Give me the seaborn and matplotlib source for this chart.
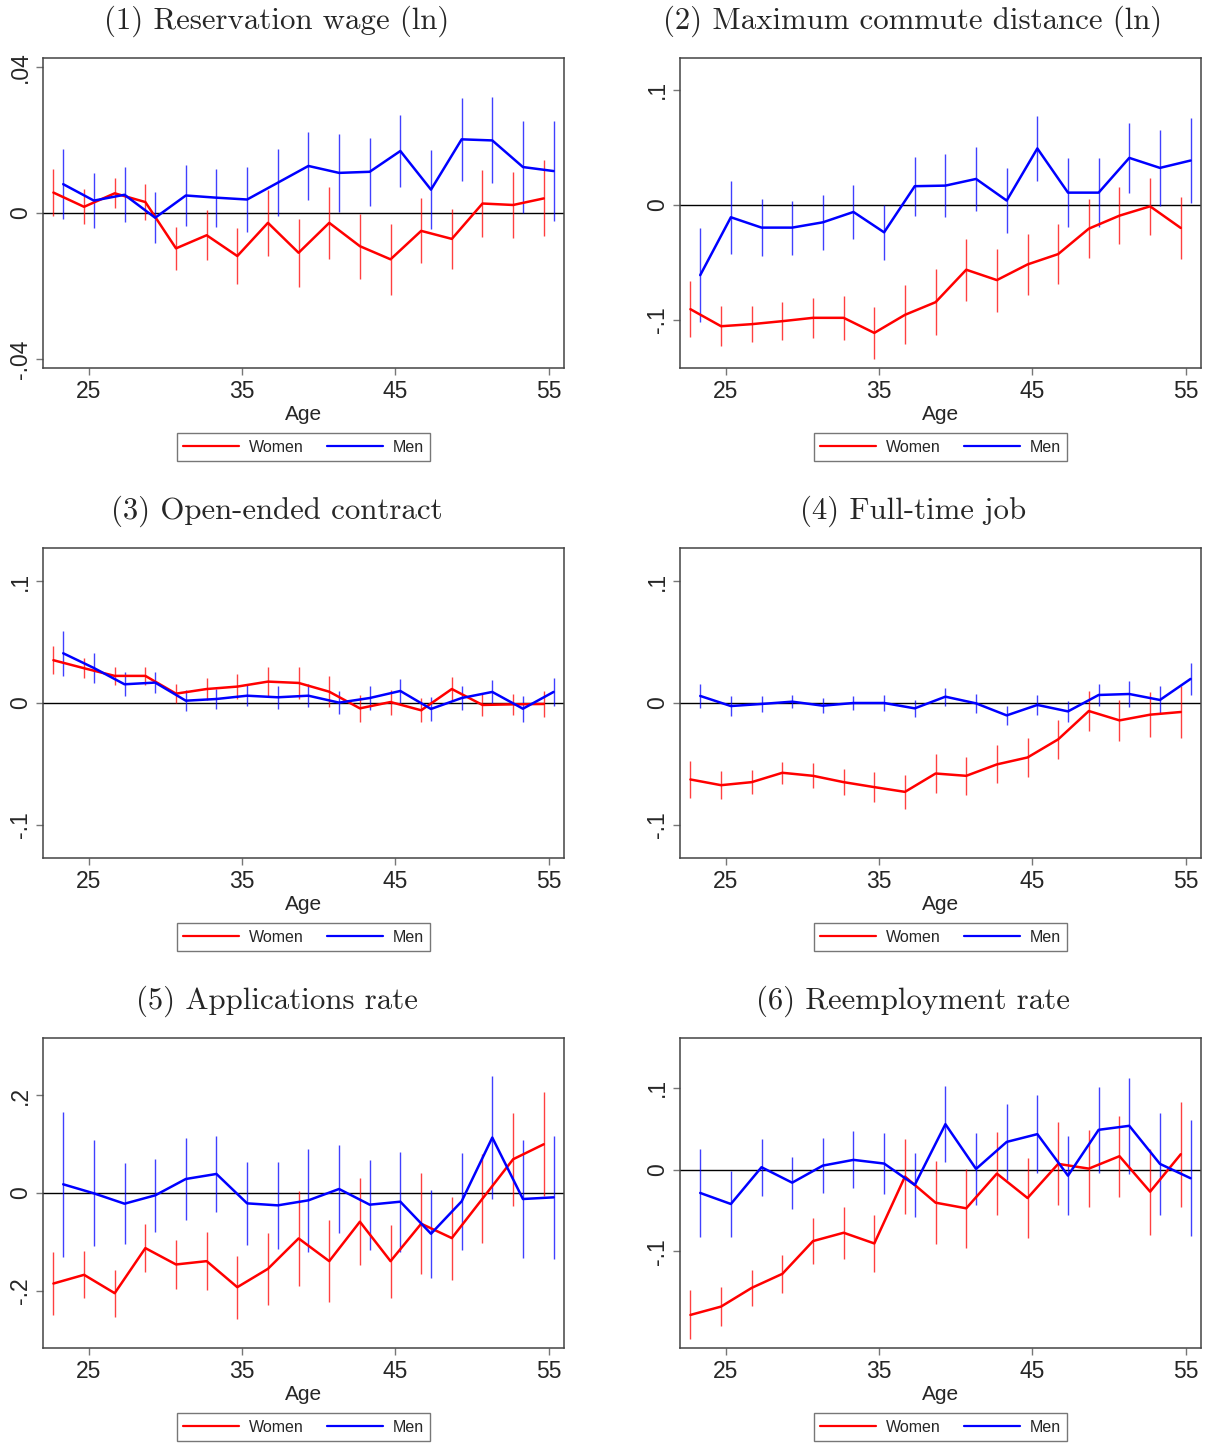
import numpy as np
import pandas as pd
import matplotlib
matplotlib.use("Agg")
import matplotlib.pyplot as plt
from matplotlib.lines import Line2D
import seaborn as sns

# ---------------- data ----------------
ages = list(range(23, 56, 2))

titles = ["(1) Reservation wage (ln)", "(2) Maximum commute distance (ln)",
          "(3) Open-ended contract", "(4) Full-time job",
          "(5) Applications rate", "(6) Reemployment rate"]

# Panel 1
women_p1 = [0.0056, 0.0017, 0.0054, 0.0030, -0.0097, -0.0061, -0.0118, -0.0027, -0.0109,
            -0.0027, -0.0091, -0.0127, -0.0049, -0.0071, 0.0026, 0.0022, 0.0040]
women_ci_p1 = [0.0064, 0.0048, 0.0041, 0.0049, 0.0059, 0.0069, 0.0078, 0.0091, 0.0093,
               0.0098, 0.0089, 0.0098, 0.0089, 0.0083, 0.0092, 0.0090, 0.0104]
men_p1 = [0.0079, 0.0034, 0.0050, -0.0013, 0.0048, 0.0042, 0.0037, 0.0083, 0.0129,
          0.0110, 0.0113, 0.0170, 0.0064, 0.0202, 0.0199, 0.0126, 0.0115]
men_ci_p1 = [0.0096, 0.0075, 0.0075, 0.0070, 0.0083, 0.0080, 0.0089, 0.0092, 0.0093,
             0.0107, 0.0094, 0.0099, 0.0109, 0.0114, 0.0118, 0.0125, 0.0138]

# Panel 2
women_p2 = [-0.0906, -0.1054, -0.1036, -0.1010, -0.0981, -0.0981, -0.1112, -0.0955, -0.0845,
            -0.0563, -0.0653, -0.0517, -0.0427, -0.0206, -0.0093, -0.0012, -0.0200]
women_ci_p2 = [0.0245, 0.0174, 0.0155, 0.0164, 0.0174, 0.0192, 0.0226, 0.0257, 0.0287,
               0.0270, 0.0274, 0.0264, 0.0263, 0.0254, 0.0248, 0.0248, 0.0270]
men_p2 = [-0.0610, -0.0107, -0.0197, -0.0197, -0.0151, -0.0061, -0.0238, 0.0163, 0.0168,
          0.0226, 0.0038, 0.0491, 0.0107, 0.0107, 0.0409, 0.0322, 0.0386]
men_ci_p2 = [0.0408, 0.0319, 0.0250, 0.0235, 0.0238, 0.0232, 0.0241, 0.0255, 0.0277,
             0.0280, 0.0282, 0.0283, 0.0300, 0.0300, 0.0305, 0.0332, 0.0366]

# Panel 3
women_p3 = [0.0352, 0.0286, 0.0223, 0.0223, 0.0077, 0.0115, 0.0135, 0.0176, 0.0165,
            0.0093, -0.0044, 0.0008, -0.0060, 0.0115, -0.0016, -0.0011, -0.0008]
women_ci_p3 = [0.0113, 0.0082, 0.0074, 0.0077, 0.0077, 0.0088, 0.0102, 0.0120, 0.0130,
               0.0126, 0.0109, 0.0103, 0.0098, 0.0102, 0.0091, 0.0089, 0.0109]
men_p3 = [0.0409, 0.0288, 0.0154, 0.0168, 0.0019, 0.0033, 0.0060, 0.0047, 0.0060,
          0.0003, 0.0041, 0.0099, -0.0049, 0.0041, 0.0091, -0.0047, 0.0091]
men_ci_p3 = [0.0185, 0.0121, 0.0098, 0.0085, 0.0088, 0.0085, 0.0085, 0.0093, 0.0095,
             0.0095, 0.0095, 0.0099, 0.0096, 0.0100, 0.0100, 0.0107, 0.0118]

# Panel 4
women_p4 = [-0.0629, -0.0676, -0.0651, -0.0574, -0.0599, -0.0651, -0.0692, -0.0731, -0.0580,
            -0.0599, -0.0505, -0.0448, -0.0299, -0.0066, -0.0143, -0.0096, -0.0074]
women_ci_p4 = [0.0151, 0.0113, 0.0096, 0.0092, 0.0102, 0.0106, 0.0121, 0.0137, 0.0159,
               0.0158, 0.0157, 0.0163, 0.0163, 0.0166, 0.0169, 0.0185, 0.0214]
men_p4 = [0.0058, -0.0025, -0.0008, 0.0011, -0.0022, 0.0000, 0.0000, -0.0044, 0.0052,
          -0.0003, -0.0102, -0.0016, -0.0069, 0.0066, 0.0074, 0.0025, 0.0198]
men_ci_p4 = [0.0100, 0.0082, 0.0066, 0.0056, 0.0060, 0.0059, 0.0062, 0.0070, 0.0074,
             0.0080, 0.0080, 0.0084, 0.0085, 0.0093, 0.0103, 0.0114, 0.0132]

# Panel 5
women_p5 = [-0.1853, -0.1675, -0.2051, -0.1128, -0.1463, -0.1395, -0.1928, -0.1552, -0.0930,
            -0.1395, -0.0588, -0.1395, -0.0629, -0.0923, -0.0116, 0.0691, 0.0998]
women_ci_p5 = [0.0643, 0.0479, 0.0482, 0.0492, 0.0506, 0.0588, 0.0646, 0.0738, 0.0968,
               0.0845, 0.0886, 0.0749, 0.1029, 0.0848, 0.0916, 0.0951, 0.1060]
men_p5 = [0.0178, -0.0007, -0.0219, -0.0048, 0.0287, 0.0390, -0.0212, -0.0253, -0.0150,
          0.0082, -0.0239, -0.0178, -0.0834, -0.0171, 0.1135, -0.0123, -0.0089]
men_ci_p5 = [0.1480, 0.1084, 0.0831, 0.0745, 0.0834, 0.0773, 0.0844, 0.0892, 0.1056,
             0.0906, 0.0923, 0.1022, 0.0896, 0.0988, 0.1258, 0.1217, 0.1258]

# Panel 6
women_p6 = [-0.1779, -0.1677, -0.1448, -0.1276, -0.0875, -0.0773, -0.0904, -0.0086, -0.0405,
            -0.0474, -0.0049, -0.0348, 0.0070, 0.0012, 0.0164, -0.0270, 0.0188]
women_ci_p6 = [0.0299, 0.0235, 0.0219, 0.0231, 0.0278, 0.0317, 0.0348, 0.0462, 0.0511,
               0.0483, 0.0507, 0.0487, 0.0509, 0.0470, 0.0495, 0.0526, 0.0642]
men_p6 = [-0.0286, -0.0421, 0.0029, -0.0160, 0.0049, 0.0119, 0.0074, -0.0188, 0.0556,
          0.0008, 0.0339, 0.0434, -0.0074, 0.0487, 0.0536, 0.0070, -0.0106]
men_ci_p6 = [0.0538, 0.0403, 0.0350, 0.0319, 0.0339, 0.0348, 0.0374, 0.0393, 0.0466,
             0.0436, 0.0464, 0.0476, 0.0487, 0.0530, 0.0587, 0.0622, 0.0710]

xticks = [25, 35, 45, 55]
yticks_p1 = [-0.04, 0, 0.04]; yticklabels_p1 = ["-.04", "0", ".04"]
yticks_p10 = [-0.1, 0, 0.1]; yticklabels_p10 = ["-.1", "0", ".1"]
yticks_p20 = [-0.2, 0, 0.2]; yticklabels_p20 = ["-.2", "0", ".2"]

ylims = [(-0.0425, 0.0425), (-0.1417, 0.1277), (-0.1275, 0.1275),
         (-0.1275, 0.1275), (-0.3173, 0.3173), (-0.2184, 0.1611)]

panels = [
    (women_p1, women_ci_p1, men_p1, men_ci_p1, yticks_p1, yticklabels_p1),
    (women_p2, women_ci_p2, men_p2, men_ci_p2, yticks_p10, yticklabels_p10),
    (women_p3, women_ci_p3, men_p3, men_ci_p3, yticks_p10, yticklabels_p10),
    (women_p4, women_ci_p4, men_p4, men_ci_p4, yticks_p10, yticklabels_p10),
    (women_p5, women_ci_p5, men_p5, men_ci_p5, yticks_p20, yticklabels_p20),
    (women_p6, women_ci_p6, men_p6, men_ci_p6, yticks_p10, yticklabels_p10),
]

# ---------------- style ----------------
sns.set_theme(style="white")
plt.rcParams["font.family"] = ["Liberation Sans", "DejaVu Sans"]
palette = {"Women": "#ff0000", "Men": "#0000ff"}
offset = 0.32

W, H = 1211, 1443
fig = plt.figure(figsize=(W / 100, H / 100), dpi=100)

col_left = [43, 680]
row_top = [58, 548, 1038]
ax_w, ax_h = 521, 310
title_x = [276.5, 913]

for i, (w, wci, m, mci, yt, ytl) in enumerate(panels):
    r, c = divmod(i, 2)
    left = col_left[c] / W
    bottom = 1 - (row_top[r] + ax_h) / H
    ax = fig.add_axes([left, bottom, ax_w / W, ax_h / H])

    df = pd.DataFrame({
        "age": [a - offset for a in ages] + [a + offset for a in ages],
        "coef": list(w) + list(m),
        "ci": list(wci) + list(mci),
        "sex": ["Women"] * len(ages) + ["Men"] * len(ages),
    })
    df["lo"] = df["coef"] - df["ci"]
    df["hi"] = df["coef"] + df["ci"]

    ax.axhline(0, color="black", lw=1.0, zorder=1)
    for sex in ["Women", "Men"]:
        d = df[df["sex"] == sex]
        ax.vlines(d["age"], d["lo"], d["hi"], color=palette[sex], lw=1.0, alpha=0.75, zorder=2)
    sns.lineplot(data=df, x="age", y="coef", hue="sex", hue_order=["Women", "Men"],
                 palette=palette, estimator=None, errorbar=None, sort=True,
                 lw=1.8, legend=False, ax=ax, zorder=3)

    ax.set_xlim(22, 56)
    ax.set_ylim(*ylims[i])
    ax.set_xticks(xticks)
    ax.set_xticklabels([str(t) for t in xticks], fontsize=16.5)
    ax.set_yticks(yt)
    ax.set_yticklabels(ytl, fontsize=16.5, rotation=90, va="center")
    ax.tick_params(axis="both", which="major", direction="out", length=5, width=1,
                   color="#777777", left=True, bottom=True, pad=4)
    ax.tick_params(axis="y", pad=3)
    for s in ax.spines.values():
        s.set_color("#444444")
        s.set_linewidth(1.1)
        s.set_visible(True)
    ax.set_xlabel("Age", fontsize=15, labelpad=1)
    ax.set_ylabel("")

    handles = [Line2D([], [], color=palette["Women"], lw=1.6),
               Line2D([], [], color=palette["Men"], lw=1.6)]
    leg = ax.legend(handles, ["Women", "Men"], loc="upper center",
                    bbox_to_anchor=(0.5, -0.2097), ncol=2, fontsize=11.5,
                    frameon=True, fancybox=False, handlelength=3.5,
                    handletextpad=0.6, columnspacing=1.45, borderpad=0.42,
                    borderaxespad=0)
    leg.get_frame().set_edgecolor("#555555")
    leg.get_frame().set_linewidth(1.0)

    fig.text(title_x[c] / W, 1 - (row_top[r] - 37) / H, titles[i],
             fontfamily="cmr10", fontsize=22.2, ha="center", va="center")

fig.savefig("out.png", dpi=100, facecolor="white")
